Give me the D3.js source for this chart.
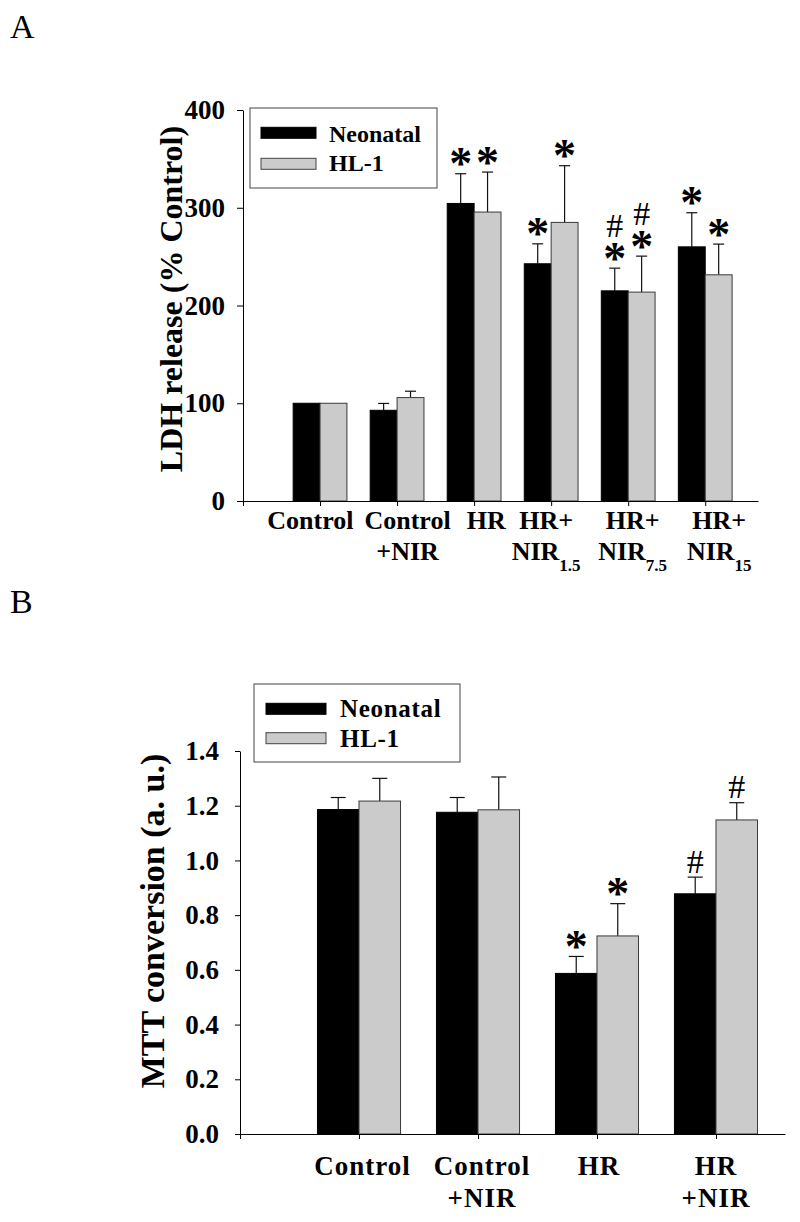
<!DOCTYPE html>
<html><head><meta charset="utf-8">
<script src="https://cdn.jsdelivr.net/npm/d3@7"></script>
<style>
body{margin:0;background:#fff;}
svg text{font-family:"Liberation Serif","Times New Roman",serif;fill:#000;}
</style></head><body>
<svg id="chart" width="800" height="1222"></svg>
<script>
// ---------- Data: panel A (LDH release) ----------
const categoriesA = ["Control", "Control\n+NIR", "HR", "HR+\nNIR_1.5", "HR+\nNIR_7.5", "HR+\nNIR_15"];
const neonatalA    = [100, 92.8, 304.4, 242.7, 215.0, 260.0];
const neonatalErrA = [0, 7.0, 30.4, 20.4, 23.2, 34.9];
const hl1A         = [100, 105.8, 295.6, 285.0, 213.7, 231.4];
const hl1ErrA      = [0, 6.5, 40.9, 58.0, 36.8, 31.4];
const sigNeonatalA = [[], [], ["*"], ["*"], ["*", "#"], ["*"]];
const sigHL1A      = [[], [], ["*"], ["*"], ["*", "#"], ["*"]];
const yTicksA      = [0, 100, 200, 300, 400];

// ---------- Data: panel B (MTT conversion) ----------
const categoriesB = ["Control", "Control\n+NIR", "HR", "HR\n+NIR"];
const neonatalB    = [1.186, 1.176, 0.587, 0.878];
const neonatalErrB = [0.044, 0.054, 0.062, 0.061];
const hl1B         = [1.217, 1.185, 0.724, 1.148];
const hl1ErrB      = [0.083, 0.120, 0.118, 0.063];
const sigNeonatalB = [[], [], ["*"], ["#"]];
const sigHL1B      = [[], [], ["*"], ["#"]];
const yTicksB      = [0, 0.2, 0.4, 0.6, 0.8, 1.0, 1.2, 1.4];

const seriesNames = ["Neonatal", "HL-1"];

// ---------- Layout (not data) ----------
const FILL = ["#000000", "#cbcbcb"];
const SERIF = '"Liberation Serif","Times New Roman",serif';
const svg = d3.select("#chart");

function drawPanel(cfg) {
  const g = svg.append("g");
  const x = d3.scaleLinear().domain(cfg.xDomain).range(cfg.xRange);
  const y = d3.scaleLinear().domain(cfg.yDomain).range(cfg.yRange);
  const step = x(1) - x(0);
  const bw = step * 0.349;

  const series = [
    {vals: cfg.neo, err: cfg.neoErr, sig: cfg.sigNeo, side: -1, fill: FILL[0], stroke: "#000"},
    {vals: cfg.hl, err: cfg.hlErr, sig: cfg.sigHl, side: 0, fill: FILL[1], stroke: "#3a3a3a"}
  ];
  series.forEach(s => {
    const rows = s.vals.map((v, i) => ({i, v, e: s.err[i], sig: s.sig[i],
      cx: x(i) + s.side * bw + bw / 2}));
    const gs = g.append("g");
    const withErr = rows.filter(d => d.e > 0);
    gs.selectAll("line.eb").data(withErr).enter().append("line")
      .attr("x1", d => d.cx).attr("x2", d => d.cx)
      .attr("y1", d => y(d.v)).attr("y2", d => y(d.v + d.e))
      .attr("stroke", "#111").attr("stroke-width", 1.2);
    gs.selectAll("line.cap").data(withErr).enter().append("line")
      .attr("x1", d => d.cx - cfg.capW / 2).attr("x2", d => d.cx + cfg.capW / 2)
      .attr("y1", d => y(d.v + d.e)).attr("y2", d => y(d.v + d.e))
      .attr("stroke", "#111").attr("stroke-width", 1.2);
    gs.selectAll("rect").data(rows).enter().append("rect")
      .attr("x", d => d.cx - bw / 2)
      .attr("width", bw)
      .attr("y", d => y(d.v))
      .attr("height", d => y(0) - y(d.v))
      .attr("fill", s.fill)
      .attr("stroke", s.stroke)
      .attr("stroke-width", 1);
    // significance marks: one text per bar, one tspan per symbol
    rows.filter(d => d.sig.length).forEach(d => {
      const base = y(d.v + d.e) - 16;
      const t = g.append("text").attr("text-anchor", "middle");
      d.sig.forEach((sym, k) => {
        const c = base - k * 26.5;
        if (sym === "*") {
          t.append("tspan").attr("x", d.cx).attr("y", c + 0.47 * 46)
            .attr("font-weight", "bold").attr("font-size", 46).text("*");
        } else {
          t.append("tspan").attr("x", d.cx).attr("y", c + 0.34 * 34)
            .attr("font-weight", "normal").attr("font-size", 34).text("#");
        }
      });
    });
  });

  // y axis
  const yAxis = g.append("g").attr("transform", `translate(${x(cfg.xDomain[0])},0)`)
    .call(d3.axisLeft(y).tickValues(cfg.yTicks).tickFormat(cfg.yFormat)
      .tickSize(cfg.tickSizeY).tickSizeOuter(0).tickPadding(cfg.tickPadY));
  yAxis.attr("font-family", SERIF).attr("font-size", cfg.yTickFont);
  yAxis.selectAll("path,line").attr("stroke", "#000");
  yAxis.selectAll("text").attr("font-size", cfg.yTickFont).attr("font-weight", "bold").attr("fill", "#000");

  // x axis (ticks at origin and each category)
  const xTicks = d3.range(cfg.xDomain[0], cfg.neo.length);
  const xAxis = g.append("g").attr("transform", `translate(0,${y(0)})`)
    .call(d3.axisBottom(x).tickValues(xTicks).tickFormat("").tickSize(5).tickSizeOuter(0));
  xAxis.selectAll("path,line").attr("stroke", "#000");

  // category labels
  cfg.cats.forEach((lab, i) => {
    const cx = x(i) + cfg.nudge[i];
    lab.split("\n").forEach((line, li) => {
      const t = g.append("text").attr("x", cx).attr("y", cfg.labelBase[li])
        .attr("text-anchor", "middle").attr("font-weight", "bold")
        .attr("font-size", cfg.labelFont).attr("letter-spacing", cfg.labelSpacing);
      const parts = line.split("_");
      t.append("tspan").text(parts[0]);
      if (parts[1]) {
        t.append("tspan").attr("dy", 11).attr("font-size", 17).attr("letter-spacing", 0).text(parts[1]);
      }
    });
  });

  // y title
  g.append("text")
    .attr("transform", `translate(${cfg.yTitlePos[0]},${cfg.yTitlePos[1]}) rotate(-90)`)
    .attr("text-anchor", "middle").attr("font-weight", "bold")
    .attr("font-size", cfg.yTitleFont).text(cfg.yTitle);

  // panel letter
  g.append("text").attr("x", 10).attr("y", cfg.letterY).attr("font-size", 34).text(cfg.letter);

  // legend
  const L = cfg.legend;
  const lg = g.append("g");
  lg.append("rect").attr("x", L.x).attr("y", L.y).attr("width", L.w).attr("height", L.h)
    .attr("fill", "#fff").attr("stroke", "#444").attr("stroke-width", 1);
  seriesNames.forEach((name, k) => {
    lg.append("rect").attr("x", L.sx).attr("y", L.sy[k]).attr("width", L.sw).attr("height", 11)
      .attr("fill", FILL[k]).attr("stroke", k === 0 ? "#000" : "#444").attr("stroke-width", 1);
    lg.append("text").attr("x", L.tx).attr("y", L.ty[k]).attr("font-weight", "bold")
      .attr("font-size", L.font).attr("letter-spacing", L.spacing).text(name);
  });
}

drawPanel({
  letter: "A", letterY: 38,
  cats: categoriesA, neo: neonatalA, neoErr: neonatalErrA, hl: hl1A, hlErr: hl1ErrA,
  sigNeo: sigNeonatalA, sigHl: sigHL1A,
  xDomain: [-1, 5.685], xRange: [243, 758],
  yDomain: [0, 400], yRange: [501, 110], yTicks: yTicksA, yFormat: d3.format("d"),
  tickSizeY: 6, tickPadY: 12, yTickFont: 27, capW: 11,
  labelFont: 26, labelSpacing: 0, labelBase: [529, 560],
  nudge: [-9.7, 10.5, 12.2, -5, 4.4, 14],
  yTitle: "LDH release (% Control)", yTitleFont: 32, yTitlePos: [182, 299],
  legend: {x: 250, y: 108, w: 187, h: 80, sx: 261, sw: 55, sy: [127.3, 158.3], tx: 329, ty: [142.3, 171], font: 24, spacing: 0}
});

drawPanel({
  letter: "B", letterY: 613,
  cats: categoriesB, neo: neonatalB, neoErr: neonatalErrB, hl: hl1B, hlErr: hl1ErrB,
  sigNeo: sigNeonatalB, sigHl: sigHL1B,
  xDomain: [-1, 3.58], xRange: [240, 785],
  yDomain: [0, 1.4], yRange: [1134, 751], yTicks: yTicksB, yFormat: d3.format(".1f"),
  tickSizeY: 5, tickPadY: 16, yTickFont: 27, capW: 15,
  labelFont: 27, labelSpacing: 1, labelBase: [1175, 1207],
  nudge: [3.5, 4, 2, 0],
  yTitle: "MTT conversion (a. u.)", yTitleFont: 34, yTitlePos: [164, 921],
  legend: {x: 254, y: 684, w: 206, h: 78, sx: 266, sw: 60, sy: [703.3, 732.7], tx: 340, ty: [717.3, 746.7], font: 25, spacing: 0.7}
});
</script>
</body></html>
